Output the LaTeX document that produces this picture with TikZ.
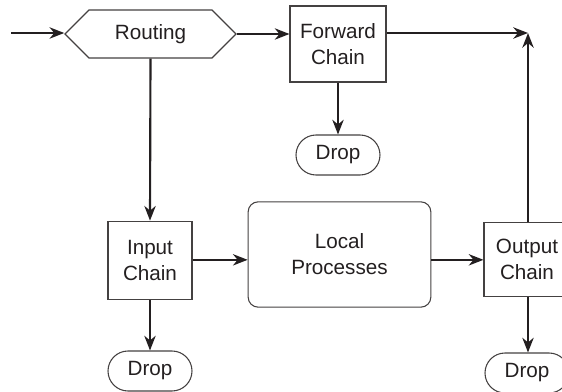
\documentclass[tikz,border=0pt]{standalone}
\usepackage{fontspec}
\setmainfont{Liberation Sans}
\usetikzlibrary{shapes.symbols,arrows.meta}
\definecolor{ink}{RGB}{35,31,32}

\begin{document}
\begin{tikzpicture}[x=0.75pt,y=0.75pt,yscale=-1,xscale=1,
  every node/.style={font=\fontsize{15.5}{19.5}\selectfont, text=ink},
  chainbox/.style={draw=ink!85, line width=0.8pt, align=center, inner sep=2pt},
  dropbox/.style={draw=ink!85, line width=0.8pt, rounded corners=15pt, minimum width=63pt, minimum height=30pt},
  arr/.style={draw=ink, -{Stealth[length=11pt,width=8.5pt,inset=3.5pt]}, line width=1.6pt}]
\useasboundingbox (0,0) rectangle (562,392);
\clip (0,0) rectangle (562,392);

%Shape: Hexagon [routing]
\node [signal, signal to=east and west, draw=ink!85, line width=0.8pt, minimum width=128.25pt, minimum height=36pt] (routing) at (150.5,34) {Routing};
%Shape: Rectangle [forward chain]
\node [chainbox, minimum width=72pt, minimum height=57pt] (fwd) at (338,44) {Forward\\Chain};
%Shape: Rectangle [input chain]
\node [chainbox, minimum width=63pt, minimum height=59pt] (inp) at (150,260.5) {Input\\Chain};
%Shape: Rounded Rectangle [local processes]
\node [chainbox, rounded corners=7.5pt, minimum width=137pt, minimum height=79pt] (lp) at (339.5,254.5) {Local\\Processes};
%Shape: Rectangle [output chain]
\node [chainbox, minimum width=64.5pt, minimum height=56pt] (out) at (527,259.5) {Output\\Chain};

%Drops
\node [dropbox] (fwddrop) at (338,155) {Drop};
\node [dropbox] (inpdrop) at (150,371) {Drop};
\node [dropbox] (outdrop) at (527,373) {Drop};

%Free ends
\coordinate (entry) at (11,33);
\coordinate (merge) at (528,33);
\coordinate (lpin) at ([yshift=4pt]lp.west);

%Connectors
\draw [arr] (entry) -- (entry -| routing.west);
\draw [arr] (routing.east) -- (routing.east -| fwd.west);
\draw [arr] (fwd.east |- merge) -- (merge);
\draw [arr] (out.north -| merge) -- (merge);
\draw [arr] (fwd.south) -- (fwddrop.north);
\draw [arr] (routing.south) -- (inp.north);
\draw [arr] (inp.east |- lpin) -- (lpin);
\draw [arr] (lp.east |- lpin) -- (lpin -| out.west);
\draw [arr] (inp.south) -- (inpdrop.north);
\draw [arr] (out.south -| merge) -- (outdrop.north -| merge);

\end{tikzpicture}
\end{document}
